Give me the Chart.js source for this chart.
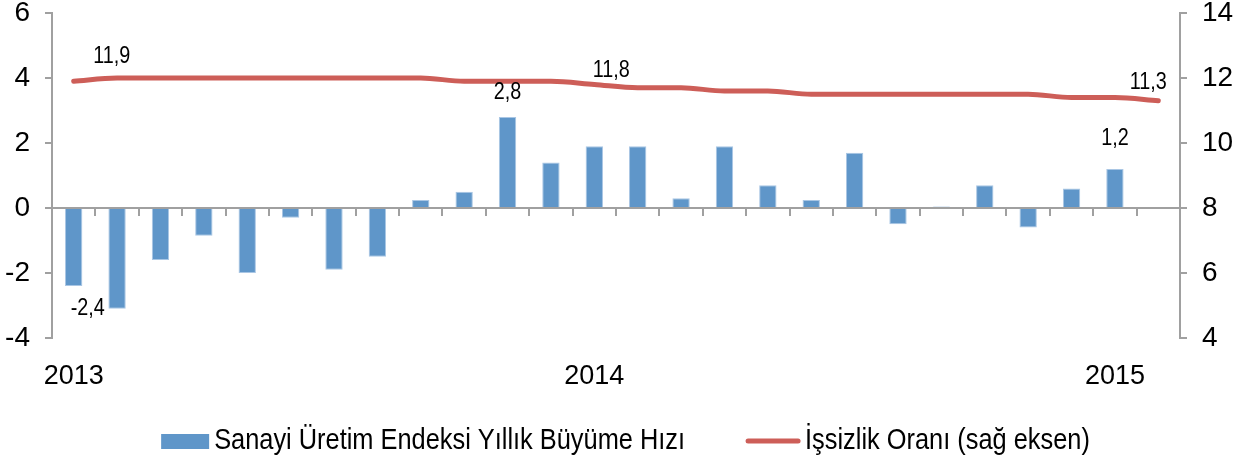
<!DOCTYPE html>
<html>
<head>
<meta charset="utf-8">
<script src="https://cdn.jsdelivr.net/npm/chart.js@4/dist/chart.umd.min.js"></script>
<style>
    html, body { margin: 0; padding: 0; background: #ffffff; }
    #wrap { width: 1243px; height: 468px; position: relative; }
</style>
</head>
<body>
<div id="wrap"><canvas id="myChart"></canvas></div>
<script>
// months Jan 2013 .. Feb 2015
const months = [
    "2013-01", "2013-02", "2013-03", "2013-04", "2013-05", "2013-06",
    "2013-07", "2013-08", "2013-09", "2013-10", "2013-11", "2013-12",
    "2014-01", "2014-02", "2014-03", "2014-04", "2014-05", "2014-06",
    "2014-07", "2014-08", "2014-09", "2014-10", "2014-11", "2014-12",
    "2015-01", "2015-02"
];

// Sanayi Üretim Endeksi yıllık büyüme (%) - left axis
let industryGrowth = [
    -2.4, -3.1, -1.6, -0.85, -2.0, -0.3, -1.9, -1.5, 0.25, 0.5, 2.8, 1.4,
    1.9, 1.9, 0.3, 1.9, 0.7, 0.25, 1.7, -0.5, 0.05, 0.7, -0.6, 0.6,
    1.2, null
];

// İşsizlik oranı (%) - right axis
let unemployment = [
    11.9, 12.0, 12.0, 12.0, 12.0, 12.0, 12.0, 12.0, 12.0, 11.9, 11.9, 11.9,
    11.8, 11.7, 11.7, 11.6, 11.6, 11.5, 11.5, 11.5, 11.5, 11.5, 11.5, 11.4,
    11.4, 11.3
];

let leftTicks = { min: -4, max: 6, step: 2 };
let rightTicks = { min: 4, max: 14, step: 2 };

const seriesNames = ["Sanayi Üretim Endeksi Yıllık Büyüme Hızı", "İşsizlik Oranı (sağ eksen)"];

const fontFamily = "'Liberation Sans', Arial, sans-serif";
const axisGray = '#a0a0a0';
const barColor = '#5f96c9';
const lineColor = '#cd5e58';
const squeeze = 0.86;   // the original uses a narrow face

// which points get a value label, and how far it is nudged
const labelSpots = [
    { ds: 1, i: 0, dx: 38, dy: -25 },
    { ds: 1, i: 12, dx: 17, dy: -14 },
    { ds: 1, i: 25, dx: -10, dy: -18 },
    { ds: 0, i: 10, dx: 0, dy: -24 },
    { ds: 0, i: 24, dx: 0, dy: -30 },
    { ds: 0, i: 0, dx: 14, dy: 23 }
];

function narrowText(ctx, text, x, y) {
    ctx.save();
    ctx.translate(x, y);
    ctx.scale(squeeze, 1);
    ctx.fillText(text, 0, 0);
    ctx.restore();
}

// zero line of the left axis with small ticks between months
const zeroAxis = {
    id: 'zeroAxis',
    afterDatasetsDraw(chart) {
        const { ctx, chartArea, scales } = chart;
        const y0 = Math.round(scales.y.getPixelForValue(0));
        ctx.save();
        ctx.strokeStyle = axisGray;
        ctx.lineWidth = 2;
        ctx.beginPath();
        ctx.moveTo(chartArea.left, y0);
        ctx.lineTo(chartArea.right, y0);
        for (let i = 0; i < months.length - 1; i++) {
            let x = Math.round((scales.x.getPixelForValue(i) + scales.x.getPixelForValue(i + 1)) / 2);
            ctx.moveTo(x, y0);
            ctx.lineTo(x, y0 + 8);
        }
        ctx.stroke();
        ctx.restore();
    }
};

const valueLabels = {
    id: 'valueLabels',
    afterDatasetsDraw(chart) {
        const ctx = chart.ctx;
        ctx.save();
        ctx.font = "23px " + fontFamily;
        ctx.fillStyle = '#000';
        ctx.textAlign = 'center';
        ctx.textBaseline = 'middle';
        for (let s of labelSpots) {
            let el = chart.getDatasetMeta(s.ds).data[s.i];
            let v = chart.data.datasets[s.ds].data[s.i];
            narrowText(ctx, String(v).replace('.', ','), el.x + s.dx, el.y + s.dy);
        }
        ctx.restore();
    }
};

// legend drawn by hand so the swatch-to-text gap matches
const bottomLegend = {
    id: 'bottomLegend',
    afterDraw(chart) {
        const ctx = chart.ctx;
        const y = 441;
        ctx.save();
        ctx.font = "29.5px " + fontFamily;
        ctx.textBaseline = 'middle';
        ctx.fillStyle = '#000';
        let w0 = ctx.measureText(chart.data.datasets[0].label).width * squeeze;
        let w1 = ctx.measureText(chart.data.datasets[1].label).width * squeeze;
        let total = 48 + 5 + w0 + 60 + 56 + 4 + w1;
        let x = (chart.width - total) / 2 + 4;
        ctx.fillStyle = barColor;
        ctx.fillRect(x, y - 7, 48, 15);
        ctx.fillStyle = '#000';
        narrowText(ctx, chart.data.datasets[0].label, x + 53, y);
        x += 53 + w0 + 60;
        ctx.strokeStyle = lineColor;
        ctx.lineWidth = 5;
        ctx.lineCap = 'round';
        ctx.beginPath();
        ctx.moveTo(x + 3, y);
        ctx.lineTo(x + 53, y);
        ctx.stroke();
        narrowText(ctx, chart.data.datasets[1].label, x + 60, y);
        ctx.restore();
    }
};

function noEdgePadding(scale) {
    scale.paddingTop = 0;
    scale.paddingBottom = 0;
}

window.addEventListener("DOMContentLoaded", () => {
    const ctx = document.getElementById('myChart');

    new Chart(ctx, {
        data: {
            labels: months,
            datasets: [{
                type: 'bar',
                label: seriesNames[0],
                data: industryGrowth,
                yAxisID: 'y',
                backgroundColor: barColor,
                borderColor: '#a9c6e4',
                borderWidth: 1,
                barPercentage: 0.4,
                categoryPercentage: 1.0,
                order: 2
            }, {
                type: 'line',
                label: seriesNames[1],
                data: unemployment,
                yAxisID: 'y1',
                borderColor: lineColor,
                borderWidth: 5,
                borderCapStyle: 'round',
                pointRadius: 0,
                cubicInterpolationMode: 'monotone',
                order: 1
            }]
        },
        options: {
            responsive: true,
            maintainAspectRatio: false,
            animation: false,
            devicePixelRatio: 1,
            layout: { padding: { top: 13, bottom: 70, left: 0, right: 0 } },
            plugins: {
                legend: { display: false },
                tooltip: { enabled: false }
            },
            scales: {
                x: {
                    offset: true,
                    grid: { display: false },
                    border: { display: false },
                    ticks: {
                        autoSkip: false,
                        maxRotation: 0,
                        padding: 14,
                        color: '#000',
                        font: { family: fontFamily, size: 27 },
                        callback: function (value, index) {
                            let m = months[index];
                            return m.endsWith('-01') ? m.slice(0, 4) : '';
                        }
                    },
                    afterFit: (scale) => { scale.height = 60; }
                },
                y: {
                    position: 'left',
                    min: leftTicks.min,
                    max: leftTicks.max,
                    border: { display: true, color: axisGray, width: 2 },
                    grid: { drawOnChartArea: false, color: axisGray, lineWidth: 2, tickLength: 7 },
                    ticks: {
                        stepSize: leftTicks.step,
                        padding: 15,
                        color: '#000',
                        font: { family: fontFamily, size: 28 }
                    },
                    afterFit: (scale) => { scale.width = 52; noEdgePadding(scale); }
                },
                y1: {
                    position: 'right',
                    min: rightTicks.min,
                    max: rightTicks.max,
                    border: { display: true, color: axisGray, width: 2 },
                    grid: { drawOnChartArea: false, color: axisGray, lineWidth: 2, tickLength: 7 },
                    ticks: {
                        stepSize: rightTicks.step,
                        padding: 15,
                        color: '#000',
                        font: { family: fontFamily, size: 28 }
                    },
                    afterFit: (scale) => { scale.width = 63; noEdgePadding(scale); }
                }
            }
        },
        plugins: [zeroAxis, valueLabels, bottomLegend]
    });
});
</script>
</body>
</html>
